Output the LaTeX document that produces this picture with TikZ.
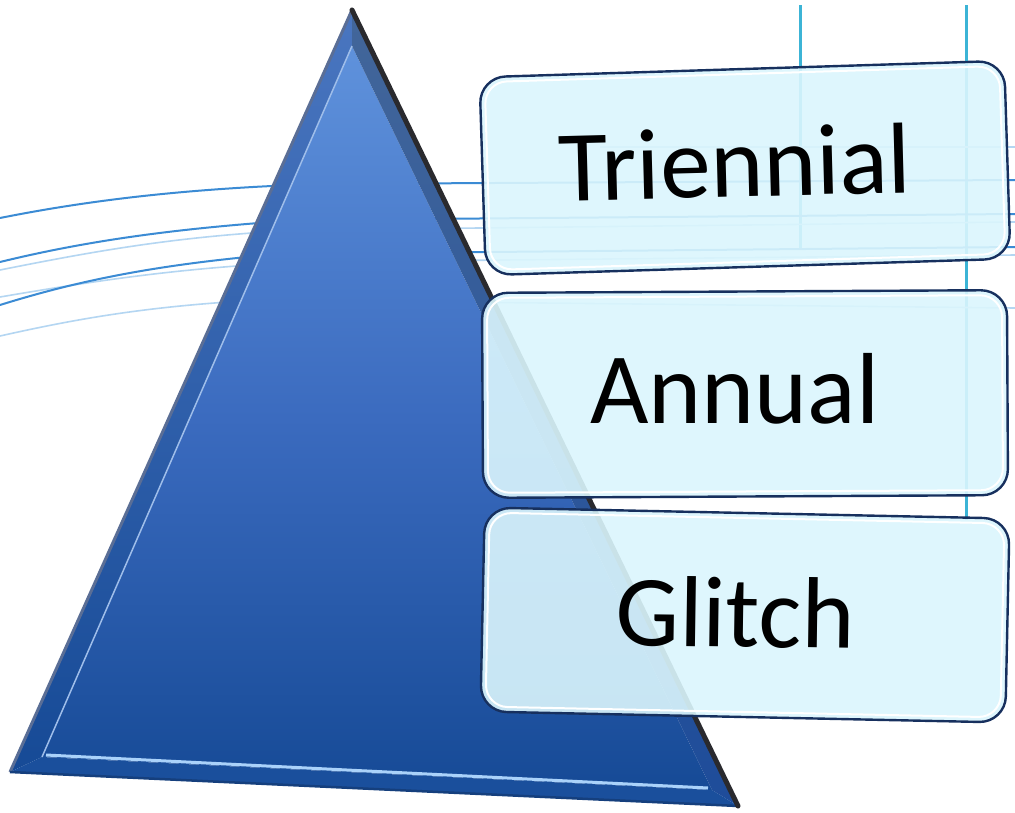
\documentclass[tikz,border=0pt]{standalone}
\usepackage{fontspec}
\setmainfont{Carlito}
\definecolor{lineblue}{HTML}{3B8BD4}
\definecolor{linefaint}{HTML}{B4D6F2}
\definecolor{gridcyan}{HTML}{3CB4D6}
\definecolor{triTop}{HTML}{5F92DC}
\definecolor{triMid}{HTML}{3B6BBF}
\definecolor{triBot}{HTML}{164A96}
\definecolor{bevelR}{HTML}{1E4C9A}
\definecolor{bevelL}{HTML}{4A76C0}
\definecolor{bevelB}{HTML}{1A4F9C}
\definecolor{edgeDark}{HTML}{2A2A2E}
\definecolor{boxfill}{HTML}{DBF6FD}
\definecolor{boxedge}{HTML}{17305E}
\tikzset{
  bgline/.style={lineblue, line width=2pt},
  bgfaint/.style={linefaint, line width=1.6pt},
  gridline/.style={gridcyan, line width=3pt},
  panel/.style={rectangle, rounded corners=26pt, draw=boxedge, line width=2.4pt,
    fill=boxfill, fill opacity=0.9, minimum width=525pt},
  panelin/.style={rectangle, rounded corners=22pt, draw=white, line width=2pt,
    minimum width=515pt},
  lbl/.style={anchor=base, text=black, font=\fontsize{101}{110}\selectfont, inner sep=0pt}
}
\begin{document}
\begin{tikzpicture}[x=1pt,y=-1pt]
\useasboundingbox (0,0) rectangle (1015,812);
\fill[white] (0,0) rectangle (1015,812);
% background lines
\draw[gridline] (800,5) -- (800,250);
\draw[gridline] (966,5) -- (966,520);
\draw[bgfaint] (0,297) .. controls (100,280) and (180,268) .. (300,262) -- (1015,255);
\draw[bgfaint] (0,336) .. controls (80,318) and (150,306) .. (260,300) -- (1015,308);
\draw[bgfaint] (0,270) .. controls (100,250) and (180,236) .. (300,230) -- (1015,222);
\draw[bgfaint] (600,147) -- (1015,147);
\draw[bgline] (0,218) .. controls (100,198) and (200,188) .. (320,184) -- (1015,180);
\draw[bgline] (0,262) .. controls (90,240) and (180,228) .. (300,220) -- (1015,214);
\draw[bgline] (0,305) .. controls (80,280) and (160,264) .. (280,254) -- (1015,247);
% triangle
\coordinate (A) at (352,10);
\coordinate (L) at (10,772);
\coordinate (R) at (738,806);
\coordinate (a) at (352,46);
\coordinate (l) at (42,757);
\coordinate (r) at (712,790);
\shade[top color=triTop, bottom color=triBot, middle color=triMid] (a) -- (r) -- (l) -- cycle;
\shade[top color=bevelL, bottom color=triBot] (A) -- (a) -- (l) -- (L) -- cycle;
\shade[top color=triTop!70!black, bottom color=bevelR] (A) -- (R) -- (r) -- (a) -- cycle;
\fill[bevelB] (L) -- (l) -- (r) -- (R) -- cycle;
\draw[line width=3pt, color={rgb,255:red,170;green,210;blue,250}] ([shift={(4,-2)}]l) -- ([shift={(-4,-2)}]r);
\draw[line width=1.5pt, color=triTop!60!white] (a) -- (l);
\draw[line width=3pt, color={rgb,255:red,90;green,110;blue,150}] (A) -- (L);
\draw[line width=2.5pt, color=bevelB!80!black] (L) -- (R);
\draw[line width=5pt, edgeDark, line cap=round] (A) -- (R);
% panels
\node[panel, rotate=1.8, minimum height=198pt] (p1) at (745,168) {};
\node[panelin, rotate=1.8, minimum height=188pt] (p1in) at (745,168) {};
\node[panel, rotate=0.3, minimum height=205pt] (p2) at (745,394) {};
\node[panelin, rotate=0.3, minimum height=195pt] (p2in) at (745,394) {};
\node[panel, rotate=-1.2, minimum height=204pt] (p3) at (745,615) {};
\node[panelin, rotate=-1.2, minimum height=194pt] (p3in) at (745,615) {};
\node[lbl, rotate=1.5] (t1) at (736,197) {Triennial};
\node[lbl, rotate=0] (t2) at (735,423) {Annual};
\node[lbl, rotate=-0.8] (t3) at (735,647) {Glitch};
\end{tikzpicture}
\end{document}
